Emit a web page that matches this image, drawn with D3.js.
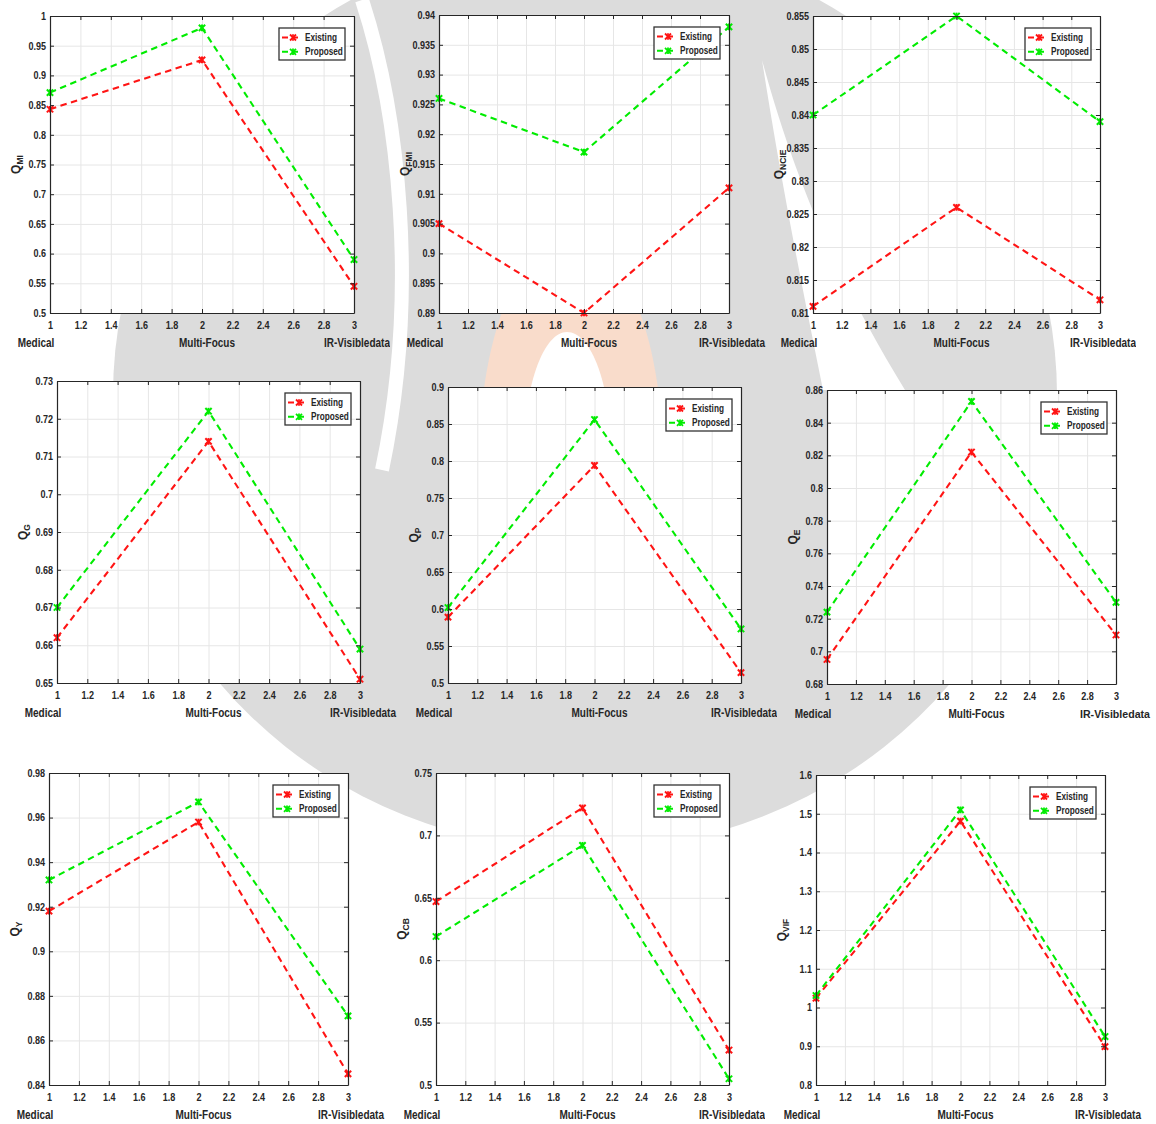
<!DOCTYPE html>
<html>
<head>
<meta charset="utf-8">
<script src="https://cdn.jsdelivr.net/npm/d3@7"></script>
<style>
  html, body { margin: 0; padding: 0; background: #fff; }
  svg { display: block; }
  text { font-family: "Liberation Sans", Arial, sans-serif; }
</style>
</head>
<body>
<svg id="fig" width="1156" height="1124"></svg>
<script>
// ---- data ----
const categories = ["Medical", "Multi-Focus", "IR-Visibledata"];
const seriesNames = ["Existing", "Proposed"];
const xTicks = [1, 1.2, 1.4, 1.6, 1.8, 2, 2.2, 2.4, 2.6, 2.8, 3];

const existingMI = [0.843, 0.926, 0.545];
const proposedMI = [0.871, 0.980, 0.590];
const ticksMI = [0.5, 0.55, 0.6, 0.65, 0.7, 0.75, 0.8, 0.85, 0.9, 0.95, 1];

const existingFMI = [0.905, 0.890, 0.911];
const proposedFMI = [0.926, 0.917, 0.938];
const ticksFMI = [0.89, 0.895, 0.9, 0.905, 0.91, 0.915, 0.92, 0.925, 0.93, 0.935, 0.94];

const existingNCIE = [0.811, 0.826, 0.812];
const proposedNCIE = [0.840, 0.855, 0.839];
const ticksNCIE = [0.81, 0.815, 0.82, 0.825, 0.83, 0.835, 0.84, 0.845, 0.85, 0.855];

const existingG = [0.662, 0.714, 0.651];
const proposedG = [0.670, 0.722, 0.659];
const ticksG = [0.65, 0.66, 0.67, 0.68, 0.69, 0.7, 0.71, 0.72, 0.73];

const existingP = [0.589, 0.794, 0.514];
const proposedP = [0.602, 0.856, 0.573];
const ticksP = [0.5, 0.55, 0.6, 0.65, 0.7, 0.75, 0.8, 0.85, 0.9];

const existingE = [0.695, 0.822, 0.710];
const proposedE = [0.724, 0.853, 0.730];
const ticksE = [0.68, 0.7, 0.72, 0.74, 0.76, 0.78, 0.8, 0.82, 0.84, 0.86];

const existingY = [0.918, 0.958, 0.845];
const proposedY = [0.932, 0.967, 0.871];
const ticksY = [0.84, 0.86, 0.88, 0.9, 0.92, 0.94, 0.96, 0.98];

const existingCB = [0.647, 0.722, 0.528];
const proposedCB = [0.619, 0.692, 0.505];
const ticksCB = [0.5, 0.55, 0.6, 0.65, 0.7, 0.75];

const existingVIF = [1.024, 1.481, 0.899];
const proposedVIF = [1.031, 1.510, 0.925];
const ticksVIF = [0.8, 0.9, 1, 1.1, 1.2, 1.3, 1.4, 1.5, 1.6];

// ---- layout: plot box [left, top, right, bottom] and the cell each figure is cropped to ----
const panels = [
  { sub: "MI",   existing: existingMI,   proposed: proposedMI,   ticks: ticksMI,   box: [50, 16, 354, 313],   cell: [0, 0, 390, 356] },
  { sub: "FMI",  existing: existingFMI,  proposed: proposedFMI,  ticks: ticksFMI,  box: [439, 15, 729, 313],  cell: [390, 0, 766, 356] },
  { sub: "NCIE", existing: existingNCIE, proposed: proposedNCIE, ticks: ticksNCIE, box: [813, 16, 1100, 313], cell: [766, 0, 1136, 356] },
  { sub: "G",    existing: existingG,    proposed: proposedG,    ticks: ticksG,    box: [57, 381, 360, 683],  cell: [0, 362, 398, 726] },
  { sub: "P",    existing: existingP,    proposed: proposedP,    ticks: ticksP,    box: [448, 387, 741, 683], cell: [400, 362, 777, 726] },
  { sub: "E",    existing: existingE,    proposed: proposedE,    ticks: ticksE,    box: [827, 390, 1116, 684], cell: [780, 362, 1156, 726] },
  { sub: "Y",    existing: existingY,    proposed: proposedY,    ticks: ticksY,    box: [49, 773, 348, 1085], cell: [0, 758, 389, 1124] },
  { sub: "CB",   existing: existingCB,   proposed: proposedCB,   ticks: ticksCB,   box: [436, 773, 729, 1085], cell: [390, 758, 765, 1124] },
  { sub: "VIF",  existing: existingVIF,  proposed: proposedVIF,  ticks: ticksVIF,  box: [816, 775, 1105, 1085], cell: [766, 758, 1142, 1124] }
];

const colors = { Existing: "#ff1414", Proposed: "#00ec00" };
const ink = "#262626";
const fmt = v => String(+v.toFixed(4));
const pageRight = 1150;

// squeeze a text horizontally to a narrow face
function condense(sel, f) {
  sel.each(function () {
    const len = this.getComputedTextLength();
    if (len > 0) d3.select(this).attr("textLength", (len * f).toFixed(2)).attr("lengthAdjust", "spacingAndGlyphs");
  });
}

const svg = d3.select("#fig");

// ---- faint emblem in the page background ----
const bg = svg.append("g").attr("class", "emblem");
bg.append("ellipse").attr("cx", 585).attr("cy", 395).attr("rx", 472).attr("ry", 455).attr("fill", "#dcdcdc");
bg.append("path")
  .attr("d", "M 478 480 C 478 330 520 240 570 240 C 622 240 664 330 664 480 Z")
  .attr("fill", "#f9dccb");
bg.append("path")
  .attr("d", "M 522 480 C 522 380 545 332 567 332 C 590 332 613 380 613 480 Z")
  .attr("fill", "#ffffff");
bg.append("path")
  .attr("d", "M 362 0 C 398 110 420 290 382 470")
  .attr("fill", "none").attr("stroke", "#fff").attr("stroke-width", 14);
bg.append("path")
  .attr("d", "M 762 60 C 784 200 805 300 823 390 L 905 390 C 850 300 800 200 762 60 Z")
  .attr("fill", "#fff");

// ---- asterisk marker ----
function asterisk(sel, r) {
  const d = r * 0.75;
  sel.append("line").attr("x1", -d).attr("y1", -d).attr("x2", d).attr("y2", d);
  sel.append("line").attr("x1", -d).attr("y1", d).attr("x2", d).attr("y2", -d);
  sel.append("line").attr("x1", 0).attr("y1", -r * 0.8).attr("x2", 0).attr("y2", r * 0.8);
}

panels.forEach((p, k) => {
  const [L, T, R, B] = p.box;
  const [cx0, cy0, cx1, cy1] = p.cell;
  const clipId = "cell" + k;
  svg.append("clipPath").attr("id", clipId)
    .append("rect").attr("x", cx0).attr("y", cy0).attr("width", cx1 - cx0).attr("height", cy1 - cy0);
  const g = svg.append("g").attr("clip-path", `url(#${clipId})`);

  const x = d3.scaleLinear().domain([1, 3]).range([L, R]);
  const y = d3.scaleLinear().domain([p.ticks[0], p.ticks[p.ticks.length - 1]]).range([B, T]);

  g.append("rect").attr("x", L).attr("y", T).attr("width", R - L).attr("height", B - T).attr("fill", "#fff");

  // grid
  const gx = g.append("g").attr("transform", `translate(0,${B})`)
    .call(d3.axisBottom(x).tickValues(xTicks).tickSize(-(B - T)).tickFormat(""));
  const gy = g.append("g").attr("transform", `translate(${L},0)`)
    .call(d3.axisLeft(y).tickValues(p.ticks).tickSize(-(R - L)).tickFormat(""));
  [gx, gy].forEach(s => {
    s.select(".domain").remove();
    s.selectAll(".tick line").attr("stroke", "#e6e6e6").attr("stroke-width", 1);
  });

  // series
  const series = [
    { name: seriesNames[0], values: p.existing },
    { name: seriesNames[1], values: p.proposed }
  ];
  const line = d3.line().x((v, i) => x(i + 1)).y(v => y(v));
  series.forEach(s => {
    g.append("path").datum(s.values).attr("d", line)
      .attr("fill", "none").attr("stroke", colors[s.name])
      .attr("stroke-width", 2.1).attr("stroke-dasharray", "6.5,4.5");
  });
  series.forEach(s => {
    s.values.forEach((v, i) => {
      const m = g.append("g").attr("transform", `translate(${x(i + 1)},${y(v)})`)
        .attr("stroke", colors[s.name]).attr("stroke-width", 2);
      asterisk(m, 4.2);
    });
  });

  // axes with inward ticks on all four sides
  const tl = 4;
  const axB = g.append("g").attr("transform", `translate(0,${B})`)
    .call(d3.axisBottom(x).tickValues(xTicks).tickSizeInner(-tl).tickSizeOuter(0).tickPadding(9).tickFormat(fmt));
  const axT = g.append("g").attr("transform", `translate(0,${T})`)
    .call(d3.axisTop(x).tickValues(xTicks).tickSizeInner(-tl).tickSizeOuter(0).tickFormat(""));
  const axL = g.append("g").attr("transform", `translate(${L},0)`)
    .call(d3.axisLeft(y).tickValues(p.ticks).tickSizeInner(-tl).tickSizeOuter(0).tickPadding(4).tickFormat(fmt));
  const axR = g.append("g").attr("transform", `translate(${R},0)`)
    .call(d3.axisRight(y).tickValues(p.ticks).tickSizeInner(-tl).tickSizeOuter(0).tickFormat(""));
  [axB, axT, axL, axR].forEach(s => {
    s.select(".domain").attr("stroke", ink).attr("stroke-width", 1.2);
    s.selectAll(".tick line").attr("stroke", ink);
    s.selectAll("text").attr("fill", ink).style("font-size", "10.5px").style("font-weight", "bold");
  });
  condense(axB.selectAll("text"), 0.86);
  condense(axL.selectAll("text"), 0.86);

  // category labels under the axis
  const cy = B + 34;
  const cats = g.append("g").attr("fill", ink).style("font-size", "12.5px").style("font-weight", "bold");
  cats.append("text").attr("x", L - 14).attr("y", cy).attr("text-anchor", "middle").text(categories[0]);
  cats.append("text").attr("x", (L + R) / 2 + 5).attr("y", cy).attr("text-anchor", "middle").text(categories[1]);
  const last = cats.append("text").attr("x", R - 30).attr("y", cy).attr("text-anchor", "start").text(categories[2]);
  // a label that would run past the page edge is set smaller instead of squeezed
  const natural = last.node().getComputedTextLength();
  if (R - 30 + natural * 0.8 > pageRight) {
    const x0 = R - 36;
    last.attr("x", x0).style("font-size", (12.5 * (pageRight - x0) / natural).toFixed(2) + "px");
    condense(cats.selectAll("text").filter(function () { return this !== last.node(); }), 0.8);
  } else {
    condense(cats.selectAll("text"), 0.8);
  }

  // y-axis label Q with subscript
  const yl = g.append("text")
    .attr("transform", `translate(${L - 30},${(T + B) / 2}) rotate(-90)`)
    .attr("text-anchor", "middle").attr("fill", ink)
    .style("font-weight", "bold").style("font-size", "12px");
  yl.append("tspan").text("Q");
  yl.append("tspan").attr("dy", 3).style("font-size", "8.5px").text(p.sub);

  // legend
  const lw = 66, lh = 32;
  const lx = R - 9 - lw, ly = T + 12;
  const lg = g.append("g").attr("transform", `translate(${lx},${ly})`);
  lg.append("rect").attr("width", lw).attr("height", lh).attr("fill", "#fff")
    .attr("stroke", "#333").attr("stroke-width", 1.3);
  series.forEach((s, i) => {
    const ry = 9.5 + i * 14.3;
    lg.append("line").attr("x1", 3).attr("x2", 23).attr("y1", ry).attr("y2", ry)
      .attr("stroke", colors[s.name]).attr("stroke-width", 2).attr("stroke-dasharray", "6,4");
    const m = lg.append("g").attr("transform", `translate(14,${ry})`)
      .attr("stroke", colors[s.name]).attr("stroke-width", 1.8);
    asterisk(m, 4);
    lg.append("text").attr("x", 26).attr("y", ry + 3.6).attr("fill", ink)
      .style("font-size", "10px").style("font-weight", "bold").text(s.name);
  });
  condense(lg.selectAll("text"), 0.82);
});
</script>
</body>
</html>
